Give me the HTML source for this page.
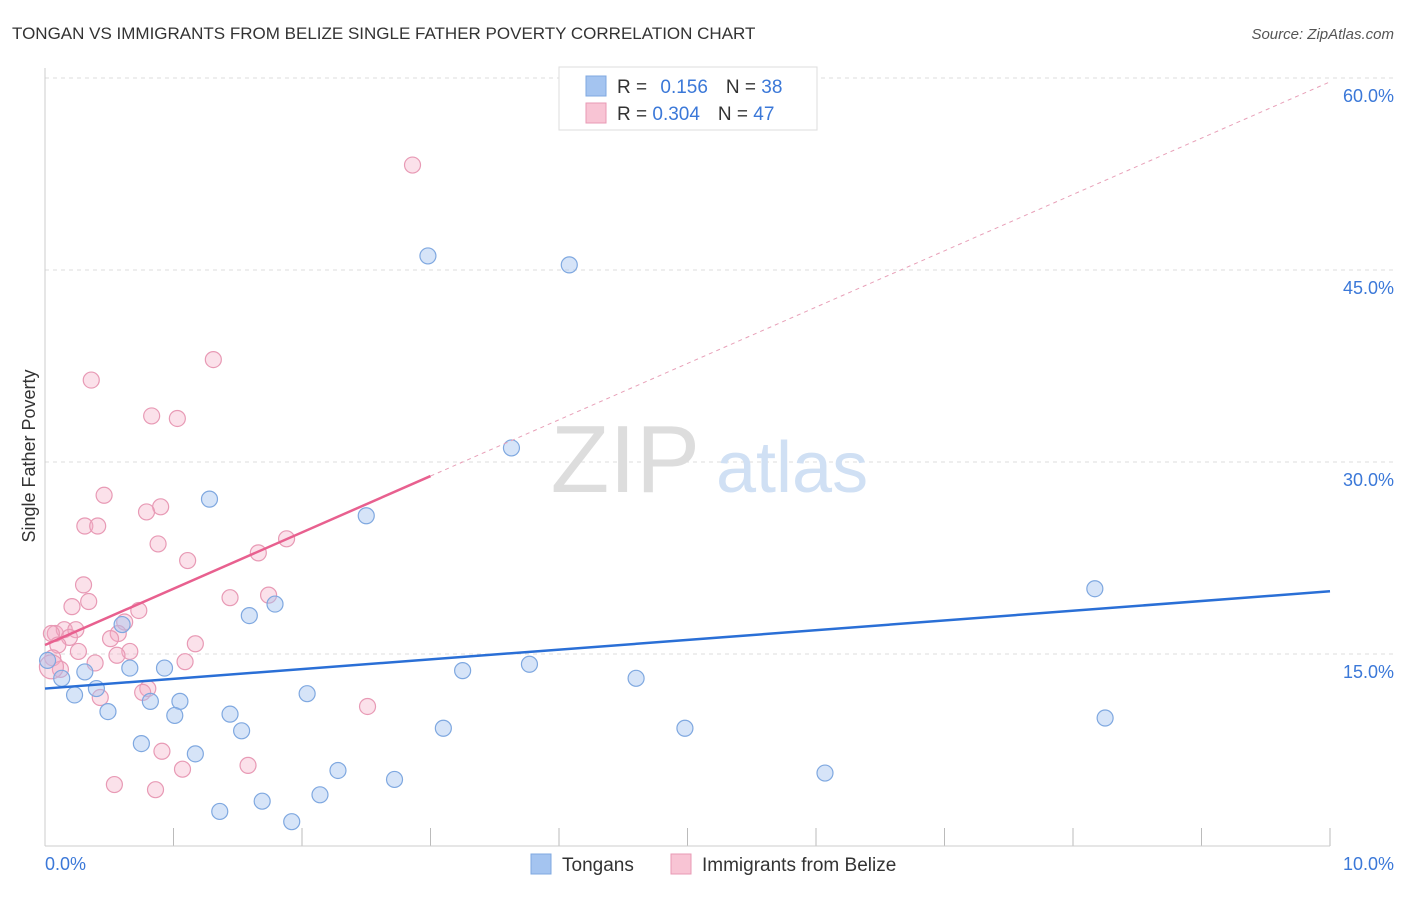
<!DOCTYPE html>
<html><head><meta charset="utf-8"><style>
body{margin:0;background:#fff;font-family:"Liberation Sans",sans-serif;}
svg text{font-family:"Liberation Sans",sans-serif;}
</style></head><body>
<svg width="1406" height="892">
<text x="12" y="39" font-size="17" fill="#333">TONGAN VS IMMIGRANTS FROM BELIZE SINGLE FATHER POVERTY CORRELATION CHART</text>
<text x="1394" y="39" font-size="15" fill="#555" text-anchor="end" font-style="italic">Source: ZipAtlas.com</text>
<g id="grid"></g>
<line x1="45" y1="68" x2="45" y2="846" stroke="#ccc"/>
<line x1="45" y1="846" x2="1330" y2="846" stroke="#ccc"/>
<text x="700" y="492" font-size="96" fill="#ddd" text-anchor="end" font-family="Liberation Serif">ZIP</text>
<text x="716" y="492" font-size="72" fill="#d0e0f4">atlas</text>
<text x="35" y="456" font-size="18" fill="#333" text-anchor="middle" transform="rotate(-90 35 456)">Single Father Poverty</text>
<g id="pts"></g>
<g id="lines"></g>
<text x="45" y="870" font-size="18" fill="#3b78d8">0.0%</text>
<text x="1394" y="870" font-size="18" fill="#3b78d8" text-anchor="end">10.0%</text>
<g>
<rect x="559" y="67" width="258" height="63" fill="#fff" stroke="#ddd"/>
<rect x="586" y="76" width="20" height="20" fill="#a4c4f0" stroke="#7fa8e0"/>
<rect x="586" y="103" width="20" height="20" fill="#f8c4d4" stroke="#e89ab5"/>
<text x="617" y="93" font-size="19" fill="#333">R = <tspan fill="#3b78d8" dx="8">0.156</tspan><tspan dx="18">N = </tspan><tspan fill="#3b78d8">38</tspan></text>
<text x="617" y="120" font-size="19" fill="#333">R = <tspan fill="#3b78d8">0.304</tspan><tspan dx="18">N = </tspan><tspan fill="#3b78d8">47</tspan></text>
</g>
<g>
<rect x="531" y="854" width="20" height="20" fill="#a4c4f0" stroke="#7fa8e0"/>
<text x="562" y="871" font-size="19" fill="#333">Tongans</text>
<rect x="671" y="854" width="20" height="20" fill="#f8c4d4" stroke="#e89ab5"/>
<text x="702" y="871" font-size="19" fill="#333">Immigrants from Belize</text>
</g>
</svg>
<script>
const yTicks=[15,30,45,60];
const xTicks=[0,1,2,3,4,5,6,7,8,9,10];
const blueX=[2.98,4.08,3.63,1.28,2.50,8.17,0.60,1.59,1.79,0.02,0.13,0.31,0.66,0.93,0.23,0.40,0.49,0.82,1.05,1.01,1.44,1.53,0.75,1.17,2.04,3.25,3.77,4.60,3.10,4.98,8.25,2.28,2.72,6.07,2.14,1.69,1.36,1.92];
const blueY=[46.1,45.4,31.1,27.1,25.8,20.1,17.3,18.0,18.9,14.5,13.1,13.6,13.9,13.9,11.8,12.3,10.5,11.3,11.3,10.2,10.3,9.0,8.0,7.2,11.9,13.7,14.2,13.1,9.2,9.2,10.0,5.9,5.2,5.7,4.0,3.5,2.7,1.9];
const pinkX=[2.86,1.31,0.36,0.83,1.03,0.46,0.90,0.79,0.31,0.41,0.88,1.11,1.66,1.88,0.30,1.44,1.74,0.21,0.34,0.73,0.62,0.08,0.15,0.24,0.05,0.57,0.19,0.51,1.17,0.10,0.26,0.66,0.56,0.06,0.39,1.09,0.12,0.80,0.76,0.43,2.51,0.91,1.07,1.58,0.54,0.86,0.05];
const pinkY=[53.2,38.0,36.4,33.6,33.4,27.4,26.5,26.1,25.0,25.0,23.6,22.3,22.9,24.0,20.4,19.4,19.6,18.7,19.1,18.4,17.5,16.6,16.9,16.9,16.6,16.6,16.3,16.2,15.8,15.7,15.2,15.2,14.9,14.7,14.3,14.4,13.8,12.3,12.0,11.6,10.9,7.4,6.0,6.3,4.8,4.4,14.0];
const blueLine=[12.3,19.9];
const pinkLine=[15.7,28.9];
const X=v=>45+v*128.5, Y=v=>846-v*12.8;
const NS="http://www.w3.org/2000/svg";
function mk(t,a,p){const e=document.createElementNS(NS,t);for(const k in a)e.setAttribute(k,a[k]);p.appendChild(e);return e;}
const grid=document.getElementById('grid');
yTicks.forEach(t=>{
const l=mk('line',{x1:45,x2:1394,y1:Y(t),y2:Y(t),stroke:'#ddd','stroke-dasharray':'4 4'},grid);


const tx=mk('text',{x:1394,y:Y(t)+24,'font-size':18,fill:'#3b78d8','text-anchor':'end'},grid);
tx.textContent=t.toFixed(1)+'%';


});
xTicks.forEach(t=>{
const l=mk('line',{x1:X(t),x2:X(t),y1:828,y2:846,stroke:'#bbb'},grid);


});
const pts=document.getElementById('pts');
pinkX.forEach((x,i)=>{
const c=mk('circle',{cx:X(x),cy:Y(pinkY[i]),r:i==46?12:8,fill:'rgba(244,170,195,0.35)',stroke:'#e89ab5','stroke-width':1.2},pts);


});
blueX.forEach((x,i)=>{
const c=mk('circle',{cx:X(x),cy:Y(blueY[i]),r:8,fill:'rgba(164,196,240,0.45)',stroke:'#7fa8e0','stroke-width':1.2},pts);


});
const ln=document.getElementById('lines');
const sl=(pinkLine[1]-pinkLine[0])/3;
const d=mk('line',{x1:X(3),y1:Y(pinkLine[1]),x2:X(10),y2:Y(pinkLine[0]+sl*10),stroke:'#e8a0b8','stroke-dasharray':'4 4'},ln);


const p=mk('line',{x1:X(0),y1:Y(pinkLine[0]),x2:X(3),y2:Y(pinkLine[1]),stroke:'#e8608f','stroke-width':2.5},ln);


const b=mk('line',{x1:X(0),y1:Y(blueLine[0]),x2:X(10),y2:Y(blueLine[1]),stroke:'#2a6fd6','stroke-width':2.5},ln);


</script>
</body></html>
